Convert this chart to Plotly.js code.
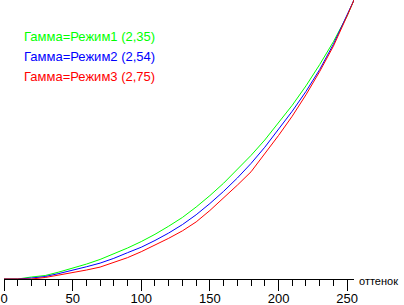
<!DOCTYPE html>
<html>
<head>
<meta charset="utf-8">
<script src="https://cdn.plot.ly/plotly-3.0.1.min.js"></script>
<style>html,body{margin:0;padding:0;background:#fff;}#chart{width:404px;height:305px;}</style>
</head>
<body>
<div id="chart"></div>
<script>
const tones = [0,10,20,30,40,50,60,70,80,90,100,110,120,130,140,150,160,170,180,190,200,210,220,230,240,250,255];
const mode1 = [0,0,2,3.5,7,10.8,15,19.7,25.2,31.2,37.7,45,53.2,62,72.5,84,96.5,110,124.5,140,157,175,194.5,216,239,265,281];
const mode2 = [0,0,1,2.5,5.5,8.7,12.3,16,20.8,26.5,32,38.8,46.3,54.8,64.7,76,88.3,101.7,116.4,132.7,150.5,169,188.9,211,236.5,265.3,281];
const mode3 = [0,0,0,1.5,3.8,6.3,9,12,16.5,21.5,27.5,34,41,48.5,57.5,69,81.5,94.5,108,126,144.5,164,185.5,209,234.5,265,281];
const seriesNames = ["Гамма=Режим1 (2,35)","Гамма=Режим2 (2,54)","Гамма=Режим3 (2,75)"];
const seriesColors = ["#00ff00","#0000ff","#ff0000"];
const xTitle = "оттенок";
const xTicks = [0,50,100,150,200,250];

const series = [mode1, mode2, mode3];
const traces = series.map((ys, i) => ({
  x: tones, y: ys, type: "scatter", mode: "lines",
  name: seriesNames[i],
  line: {color: seriesColors[i], width: 1},
  hoverinfo: "skip"
}));

const annotations = seriesNames.map((n, i) => ({
  text: n, xref: "paper", yref: "paper", x: 0, y: 1,
  xanchor: "left", yanchor: "middle", xshift: 18, yshift: -(36.7 + i*19.8),
  showarrow: false, font: {family: "Liberation Sans, Arial, sans-serif", size: 13, color: seriesColors[i]}
}));
annotations.push({
  text: xTitle, xref: "paper", yref: "paper", x: 1, y: 0,
  xanchor: "left", yanchor: "middle", xshift: 3, yshift: -2,
  showarrow: false, font: {family: "Liberation Sans, Arial, sans-serif", size: 11, color: "#000"}
});

const layout = {
  width: 404, height: 305,
  margin: {l: 4, r: 50, t: 0, b: 26, pad: 0},
  paper_bgcolor: "#fff", plot_bgcolor: "#fff",
  showlegend: false,
  font: {family: "Liberation Sans, Arial, sans-serif", size: 13, color: "#000"},
  xaxis: {
    range: [0, 255], showgrid: false, zeroline: false,
    showline: true, linecolor: "#000", linewidth: 1,
    ticks: "outside", ticklen: 11, tickcolor: "#000", tickwidth: 1,
    tickvals: xTicks, ticktext: xTicks.map(String),
    ticklabelstandoff: -4,
    minor: {dtick: 10, ticks: "outside", ticklen: 6, tickcolor: "#000", tickwidth: 1, showgrid: false},
    tickfont: {size: 13, color: "#000"},
    layer: "below traces", fixedrange: true
  },
  yaxis: {
    range: [0, 281], visible: false, showgrid: false, zeroline: false, fixedrange: true
  },
  annotations: annotations
};

Plotly.newPlot("chart", traces, layout, {staticPlot: true, displayModeBar: false});
</script>
</body>
</html>
